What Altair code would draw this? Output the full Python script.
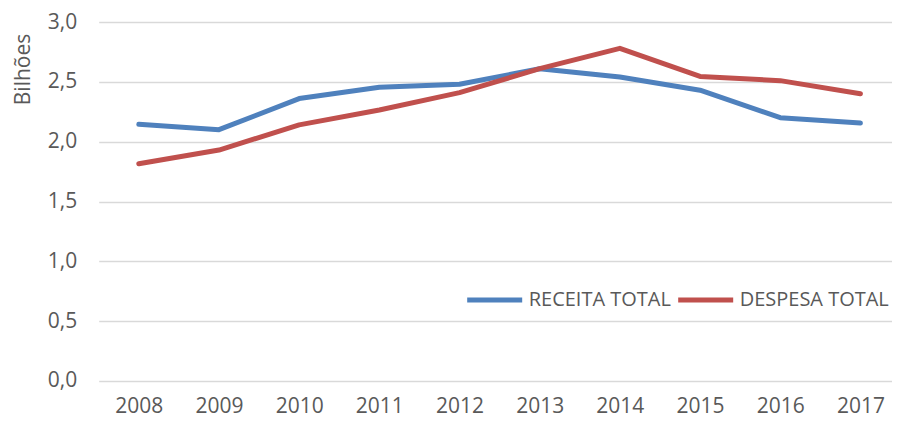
import altair as alt
import pandas as pd

years = [2008, 2009, 2010, 2011, 2012, 2013, 2014, 2015, 2016, 2017]
receita = [2.145, 2.10, 2.36, 2.455, 2.48, 2.61, 2.54, 2.43, 2.20, 2.155]
despesa = [1.815, 1.93, 2.14, 2.265, 2.41, 2.61, 2.78, 2.545, 2.51, 2.40]
series_names = ["RECEITA TOTAL", "DESPESA TOTAL"]
series_colors = ["#4F81BD", "#C0504D"]
y_ticks = [0, 0.5, 1.0, 1.5, 2.0, 2.5, 3.0]

rows = []
for name, vals in zip(series_names, [receita, despesa]):
    for yr, v in zip(years, vals):
        rows.append({"ano": yr, "valor": v, "serie": name})
df = pd.DataFrame(rows)

FONT = "Open Sans"
GREY = "#595959"

chart = alt.Chart(df).mark_line(
    strokeWidth=5, strokeCap="round", strokeJoin="round"
).encode(
    x=alt.X(
        "ano:Q",
        scale=alt.Scale(domain=[2007.5, 2017.39], nice=False, zero=False),
        axis=alt.Axis(
            values=years, format="d", title=None, grid=False, ticks=False,
            domain=False, labelFont=FONT, labelFontSize=21, labelColor=GREY,
            labelPadding=15, labelFlush=False,
        ),
    ),
    y=alt.Y(
        "valor:Q",
        scale=alt.Scale(domain=[0, 3], nice=False),
        axis=alt.Axis(
            values=y_ticks, title="Bilhões", grid=True, gridColor="#D9D9D9",
            gridWidth=1.5, ticks=False, domain=False,
            labelExpr="replace(format(datum.value, '.1f'), '.', ',')",
            labelFont=FONT, labelFontSize=21, labelColor=GREY, labelPadding=22,
            titleFont=FONT, titleFontSize=21, titleFontWeight="normal",
            titleColor=GREY, titleX=-75, titleY=47, titleAngle=270,
            titleAlign="center", titleBaseline="middle",
        ),
    ),
    color=alt.Color(
        "serie:N",
        scale=alt.Scale(domain=series_names, range=series_colors),
        legend=alt.Legend(
            title=None, orient="none", legendX=366, legendY=248,
            direction="horizontal", symbolType="stroke", symbolSize=3025,
            symbolStrokeWidth=5, labelFont=FONT, labelFontSize=20,
            labelColor=GREY, labelOffset=4, columnPadding=-4, padding=0,
            labelLimit=400,
        ),
    ),
).properties(
    width=793,
    height=359,
    autosize=alt.AutoSizeParams(type="none"),
    padding={"left": 90.7, "top": 14, "right": 0, "bottom": 38},
).configure_view(stroke=None)

chart.save("out.html", embed_options={"renderer": "svg", "actions": False})
